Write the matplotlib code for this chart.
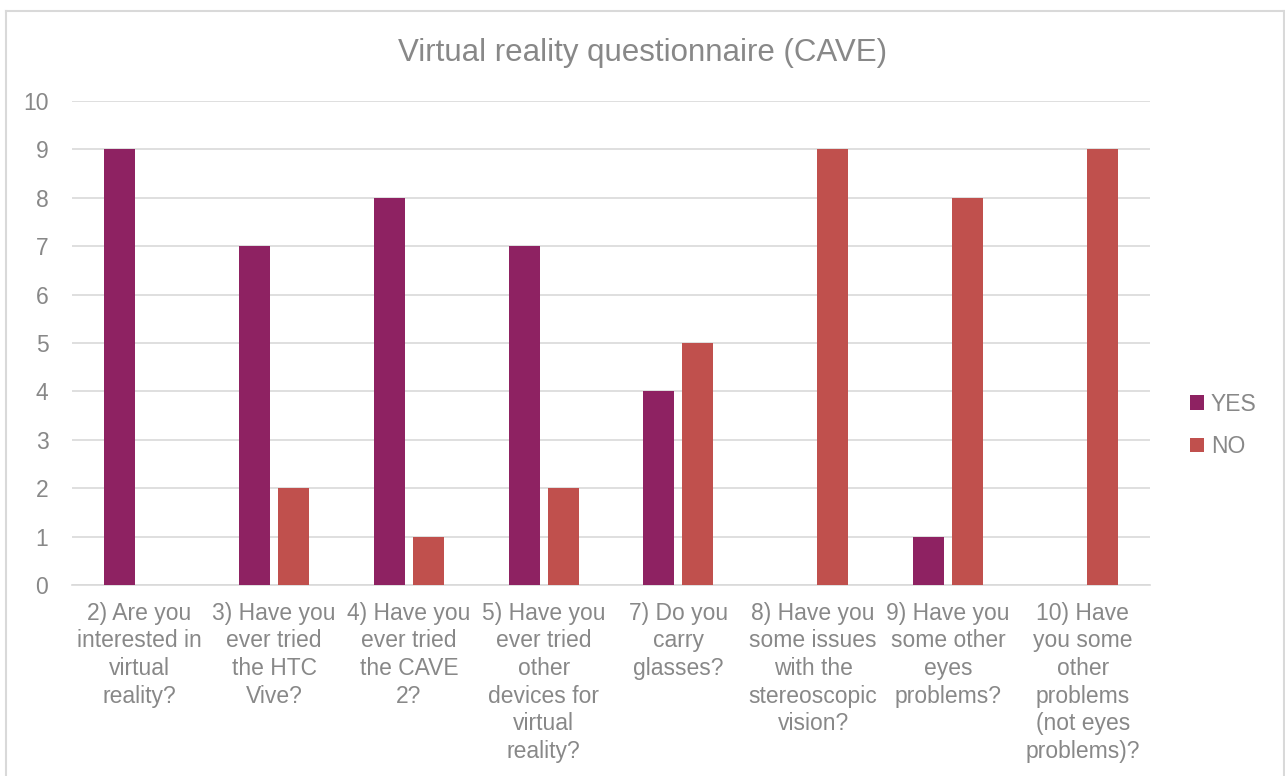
import numpy as np
import matplotlib
matplotlib.use('Agg')
import matplotlib.pyplot as plt
from matplotlib.lines import Line2D

# questionnaire answers per question
questions = ['2) Are you\ninterested in\nvirtual\nreality?',
             '3) Have you\never tried\nthe HTC\nVive?',
             '4) Have you\never tried\nthe CAVE\n2?',
             '5) Have you\never tried\nother\ndevices for\nvirtual\nreality?',
             '7) Do you\ncarry\nglasses?',
             '8) Have you\nsome issues\nwith the\nstereoscopic\nvision?',
             '9) Have you\nsome other\neyes\nproblems?',
             '10) Have\nyou some\nother\nproblems\n(not eyes\nproblems)?']
yes_counts = [9, 7, 8, 7, 4, 0, 1, 0]
no_counts = [0, 2, 1, 2, 5, 9, 8, 9]

yes_color = '#8E2262'
no_color = '#C0504D'
text_color = '#888888'
grid_color = '#D9D9D9'

plt.rcParams['font.family'] = ['Liberation Sans', 'DejaVu Sans']

fig = plt.figure(figsize=(12.85, 7.76), dpi=100)
ax = fig.add_axes([0.056, 0.246, 0.839, 0.624])

x = np.arange(len(questions))
w = 0.23
off = 0.145
ax.bar(x - off, yes_counts, w, color=yes_color, label='YES', zorder=3)
ax.bar(x + off, no_counts, w, color=no_color, label='NO', zorder=3)

ax.set_xlim(-0.5, len(questions) - 0.5)
ax.set_ylim(0, 10)
ax.set_yticks(range(0, 11))
ax.yaxis.grid(True, color=grid_color, linewidth=1.2, zorder=0)
ax.set_axisbelow(True)
for side in ['top', 'right', 'left']:
    ax.spines[side].set_visible(False)
ax.spines['bottom'].set_color(grid_color)
ax.spines['bottom'].set_linewidth(1.2)
ax.tick_params(axis='both', length=0, colors=text_color, labelsize=16.5)
ax.tick_params(axis='y', pad=17)
ax.set_xticks(x)
ax.set_xticklabels(questions, linespacing=1.26, va='top')
ax.tick_params(axis='x', pad=12)

fig.text(0.5, 0.932, 'Virtual reality questionnaire (CAVE)', ha='center', va='center',
         fontsize=22.5, color=text_color)

leg = ax.legend(loc='center left', bbox_to_anchor=(1.018, 0.33), frameon=False,
                fontsize=16.5, handlelength=0.6, handleheight=0.6, handletextpad=0.3,
                labelspacing=0.85)
for t in leg.get_texts():
    t.set_color(text_color)

# chart frame: top, left and right edges
fx0, fx1, fy1 = 6 / 1285, 1283.5 / 1285, 1 - 11 / 776
for xs, ys in [([fx0, fx1], [fy1, fy1]), ([fx0, fx0], [0, fy1]), ([fx1, fx1], [0, fy1])]:
    fig.add_artist(Line2D(xs, ys, transform=fig.transFigure, color=grid_color, linewidth=1.5))

fig.savefig('out.png', dpi=100)
